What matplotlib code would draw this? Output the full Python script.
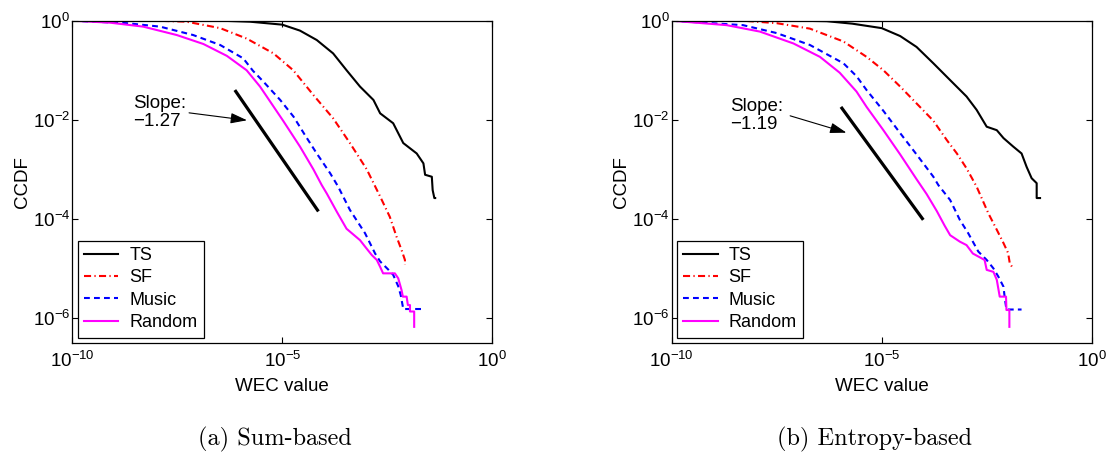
import numpy as np
import matplotlib
matplotlib.use('Agg')
import matplotlib.pyplot as plt
from matplotlib.ticker import NullLocator

plt.rcParams['font.family'] = ['Liberation Sans', 'DejaVu Sans']
plt.rcParams['mathtext.fontset'] = 'custom'
plt.rcParams['mathtext.rm'] = 'Liberation Sans'
plt.rcParams['mathtext.it'] = 'Liberation Sans:italic'
plt.rcParams['mathtext.bf'] = 'Liberation Sans:bold'

# values are log10 of WEC value (x) and log10 of CCDF (y)
# --- (a) Sum-based ---
ts_sum_x = [-10, -7.5, -6.3, -5.77, -5.0, -4.58, -4.18, -3.79, -3.47, -3.15, -2.83, -2.67, -2.36, -2.12, -1.80, -1.64, -1.60, -1.44, -1.42, -1.38, -1.36]
ts_sum_y = [0, 0, -0.005, -0.02, -0.08, -0.20, -0.39, -0.66, -1.0, -1.33, -1.60, -1.87, -2.07, -2.47, -2.68, -2.88, -3.11, -3.15, -3.42, -3.58, -3.58]
sf_sum_x = [-10, -8.0, -7.28, -6.48, -5.85, -5.21, -4.74, -4.26, -3.79, -3.39, -2.99, -2.67, -2.44, -2.28, -2.16, -2.08, -2.08]
sf_sum_y = [0, 0, -0.02, -0.15, -0.36, -0.66, -1.0, -1.5, -1.97, -2.47, -3.0, -3.55, -3.96, -4.36, -4.63, -4.83, -4.93]
mu_sum_x = [-10, -8.7, -7.91, -7.12, -6.48, -5.93, -5.7, -5.45, -5.05, -4.73, -4.46, -4.18, -3.86, -3.67, -3.39, -3.03, -2.79, -2.67, -2.47, -2.36, -2.24, -2.18, -2.12, -1.64]
mu_sum_y = [0, -0.05, -0.12, -0.29, -0.49, -0.76, -1.01, -1.23, -1.6, -1.94, -2.31, -2.68, -3.08, -3.35, -3.82, -4.29, -4.7, -4.86, -5.03, -5.13, -5.36, -5.54, -5.82, -5.82]
rd_sum_x = [-10, -9.1, -8.31, -7.51, -6.88, -6.32, -5.85, -5.53, -4.98, -4.58, -4.26, -4.06, -3.94, -3.7, -3.47, -3.15, -3.03, -2.87, -2.75, -2.67, -2.6, -2.32, -2.24, -2.16, -2.13, -2.04, -2.01, -1.96, -1.96, -1.86, -1.86]
rd_sum_y = [0, -0.04, -0.12, -0.29, -0.47, -0.71, -1.0, -1.33, -2.02, -2.54, -3.0, -3.32, -3.49, -3.86, -4.2, -4.43, -4.56, -4.73, -4.83, -4.97, -5.1, -5.1, -5.2, -5.44, -5.57, -5.57, -5.74, -5.74, -5.87, -5.87, -6.18]

# --- (b) Entropy-based ---
ts_ent_x = [-10, -7.0, -6.31, -5.7, -5.0, -4.56, -4.17, -3.77, -3.37, -2.98, -2.74, -2.5, -2.26, -2.1, -1.87, -1.67, -1.55, -1.43, -1.31, -1.31, -1.23]
ts_ent_y = [0, 0, -0.01, -0.06, -0.15, -0.31, -0.53, -0.86, -1.2, -1.53, -1.8, -2.14, -2.21, -2.37, -2.54, -2.68, -2.95, -3.18, -3.28, -3.58, -3.58]
sf_ent_x = [-10, -8.3, -7.5, -6.71, -5.91, -5.36, -4.96, -4.56, -4.17, -3.77, -3.45, -3.21, -2.98, -2.74, -2.46, -2.26, -2.1, -1.99, -1.95, -1.87]
sf_ent_y = [0, 0, -0.05, -0.16, -0.42, -0.73, -1.0, -1.33, -1.67, -2.02, -2.41, -2.68, -2.98, -3.35, -3.89, -4.22, -4.49, -4.69, -4.9, -5.0]
mu_ent_x = [-10, -8.3, -7.5, -6.71, -5.91, -5.6, -5.36, -4.96, -4.56, -4.17, -3.77, -3.65, -3.37, -3.14, -2.94, -2.7, -2.5, -2.34, -2.22, -2.1, -2.07, -2.03, -1.67]
mu_ent_y = [0, -0.09, -0.25, -0.49, -0.86, -1.12, -1.4, -1.82, -2.27, -2.7, -3.15, -3.32, -3.62, -4.02, -4.29, -4.66, -4.83, -5.0, -5.17, -5.37, -5.6, -5.83, -5.83]
rd_ent_x = [-10, -8.69, -7.9, -7.1, -6.47, -6.0, -5.6, -5.36, -4.96, -4.56, -4.17, -3.93, -3.69, -3.5, -3.37, -3.14, -2.98, -2.83, -2.7, -2.55, -2.5, -2.34, -2.26, -2.19, -2.04, -2.03, -1.96, -1.96]
rd_ent_y = [0, -0.09, -0.22, -0.46, -0.73, -1.05, -1.43, -1.74, -2.21, -2.7, -3.2, -3.5, -3.84, -4.14, -4.33, -4.46, -4.53, -4.7, -4.76, -4.83, -5.03, -5.07, -5.23, -5.57, -5.57, -5.84, -5.84, -6.18]

labels = ['TS', 'SF', 'Music', 'Random']
captions = ['(a) Sum-based', '(b) Entropy-based']
slopes = ['\u22121.27', '\u22121.19']

# annotation pieces (log10 coords)
text_pos = [(-8.55, -1.85), (-8.6, -1.92)]
arrow_tail = [(-7.22, -1.86), (-7.18, -1.92)]
arrow_head = [(-5.84, -2.01), (-5.84, -2.26)]
slope_seg_x = [[-6.13, -4.14], [-5.97, -4.01]]
slope_seg_y = [[-1.40, -3.85], [-1.74, -4.02]]

styles = [
    dict(color='black', linestyle='-'),
    dict(color='red', linestyle=(0, (3.4, 1.6, 0.6, 1.6))),
    dict(color='blue', linestyle=(0, (2.8, 2.0))),
    dict(color='magenta', linestyle='-'),
]

panels = [
    [(ts_sum_x, ts_sum_y), (sf_sum_x, sf_sum_y), (mu_sum_x, mu_sum_y), (rd_sum_x, rd_sum_y)],
    [(ts_ent_x, ts_ent_y), (sf_ent_x, sf_ent_y), (mu_ent_x, mu_ent_y), (rd_ent_x, rd_ent_y)],
]

W, H = 1109, 454
fig = plt.figure(figsize=(W / 100, H / 100), dpi=100)

ax_left_px = [72.3, 671.7]
ax_top, ax_bot, ax_w = 20.7, 342.7, 420.0
cap_x = [275, 874]
fs = 13.5

def p(v):
    return 10.0 ** np.asarray(v, dtype=float)

for i, curves in enumerate(panels):
    ax = fig.add_axes([ax_left_px[i] / W, (H - ax_bot) / H, ax_w / W, (ax_bot - ax_top) / H])
    for (cx, cy), st, lab in zip(curves, styles, labels):
        ax.plot(p(cx), p(cy), linewidth=1.5, label=lab, **st)

    ax.set_xscale('log')
    ax.set_yscale('log')
    ax.set_xlim(1e-10, 1e0)
    ax.set_ylim(10 ** -6.5, 1e0)
    ax.xaxis.set_ticks([1e-10, 1e-5, 1e0])
    ax.yaxis.set_ticks([1e-6, 1e-4, 1e-2, 1e0])
    ax.xaxis.set_minor_locator(NullLocator())
    ax.yaxis.set_minor_locator(NullLocator())
    ax.tick_params(which='both', direction='in', top=True, right=True, length=4, width=0.8, labelsize=fs)
    ax.tick_params(axis='x', pad=6)
    ax.tick_params(axis='y', pad=1.5)
    for s in ax.spines.values():
        s.set_linewidth(0.9)

    ax.set_xlabel('WEC value', fontsize=fs)
    ax.set_ylabel('CCDF', fontsize=fs)
    ax.xaxis.set_label_coords(0.5, -0.11)
    ax.yaxis.set_label_coords(-0.099, 0.5)

    # slope guide line and its label
    ax.plot(p(slope_seg_x[i]), p(slope_seg_y[i]), color='black', linewidth=2.3, solid_capstyle='butt')
    ax.text(p(text_pos[i][0]), p(text_pos[i][1]), 'Slope:\n' + slopes[i], fontsize=fs,
            ha='left', va='center', linespacing=1.1)
    ax.annotate('', xy=p(arrow_head[i]), xytext=p(arrow_tail[i]),
                arrowprops=dict(arrowstyle='-|>,head_length=0.5,head_width=0.16', color='black',
                                linewidth=0.8, mutation_scale=20, shrinkA=0, shrinkB=0))

    leg = ax.legend(loc='lower left', bbox_to_anchor=(0.013, 0.016), borderaxespad=0,
                    fontsize=13, handlelength=1.9, handletextpad=0.6, borderpad=0.35,
                    labelspacing=0.3, fancybox=False, framealpha=1, edgecolor='black')
    leg.get_frame().set_linewidth(0.9)

    fig.text(cap_x[i] / W, (H - 445.5) / H, captions[i], fontsize=17.5, family='cmr10',
             ha='center', va='baseline')

fig.savefig('out.png', dpi=100)
